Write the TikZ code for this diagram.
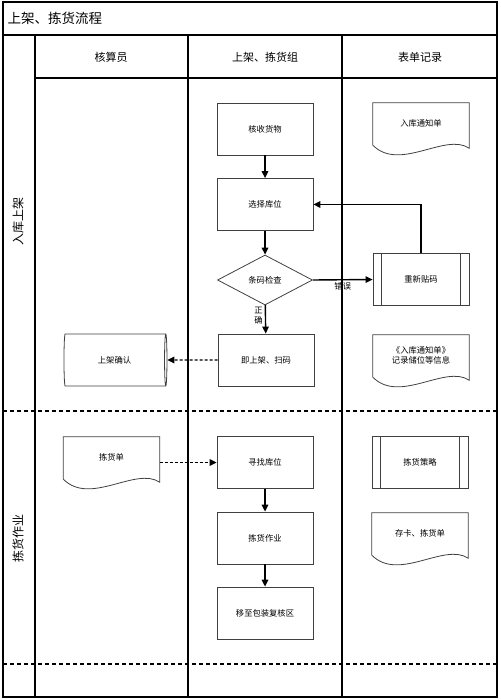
\documentclass[tikz,border=0pt]{standalone}
\usepackage{fontspec}
\setmainfont{Noto Sans CJK SC}
\usepackage{tikz}
\usetikzlibrary{arrows.meta,positioning,calc,shapes.geometric}
\newcommand{\boxfont}{\fontsize{8.3}{10}\selectfont}
% outline of a document symbol round a node
\newcommand{\docwave}[1]{%
  \draw[draw=black!75, line width=0.8pt] (#1.north west) -- (#1.north east) -- ($(#1.south east)+(0,5)$)
    .. controls ($(#1.south east)+(-24,-11)$) and ($(#1.south west)+(27,29)$) .. ($(#1.south west)+(0,2)$) -- cycle;}
% inner bars of a predefined process
\newcommand{\predefbars}[1]{%
  \draw[draw=black!75, line width=0.8pt] ([xshift=9pt]#1.north west) -- ([xshift=9pt]#1.south west)
    ([xshift=-9pt]#1.north east) -- ([xshift=-9pt]#1.south east);}

\tikzset{
  box/.style={draw=black!75, line width=0.8pt, fill=white, minimum width=96pt, minimum height=52pt,
    inner sep=1pt, font=\boxfont},
  docbox/.style={minimum width=96pt, minimum height=40pt, inner sep=1pt, align=center, font=\boxfont},
  decision/.style={draw=black!75, line width=0.8pt, diamond, aspect=1.9, minimum width=95pt,
    minimum height=50pt, inner sep=0pt, font=\boxfont},
  store/.style={draw=black!75, line width=0.8pt, cylinder, aspect=0.25, minimum width=52pt,
    minimum height=103pt, inner sep=1pt, font=\boxfont},
  flow/.style={-{Triangle[length=7pt,width=6.5pt]}, line width=1.4pt},
  dashflow/.style={flow, dash pattern=on 3pt off 2pt},
  frame/.style={line width=1.1pt},
  lanesep/.style={line width=1.6pt, dash pattern=on 4pt off 3pt},
  headtext/.style={font=\fontsize{11}{13}\selectfont},
  lanetext/.style={font=\fontsize{12}{14}\selectfont, rotate=90}
}

\begin{document}
\begin{tikzpicture}[x=1pt, y=-1pt]
    \useasboundingbox (0,0) rectangle (500,700);

    % Frame and columns
    \draw[frame] (3,2) rectangle (497,697);
    \draw[frame] (3,35) -- (497,35);
    \draw[frame] (35,78) -- (497,78);
    \draw[frame] (35,35) -- (35,697);
    \draw[frame] (188,35) -- (188,697);
    \draw[frame] (342,35) -- (342,697);

    % Lane separators
    \draw[lanesep] (3,411) -- (497,411);
    \draw[lanesep] (3,664) -- (497,664);

    % Titles
    \node[anchor=west, font=\fontsize{13.5}{15}\selectfont] (title) at (4,18) {上架、拣货流程};
    \node[headtext] (hacc) at (111,57) {核算员};
    \node[headtext] (hgrp) at (265,57) {上架、拣货组};
    \node[headtext] (hform) at (420,57) {表单记录};
    \node[lanetext] (lin) at (18,222) {入库上架};
    \node[lanetext] (lpick) at (18,538) {拣货作业};

    % Put-away lane
    \node[box] (recv) at (265,129) {核收货物};
    \node[box] (choose) at (265,204.5) {选择库位};
    \node[decision] (check) at (265,280) {条码检查};
    \node[box] (shelve) at (266,360) {即上架、扫码};
    \node[box] (relabel) at (421,279.5) {重新贴码};
    \predefbars{relabel}
    \node[docbox] (notice) at (421,123) {入库通知单};
    \docwave{notice}
    \node[docbox] (record) at (421,355) {《入库通知单》\\记录储位等信息};
    \docwave{record}
    \node[store] (confirm) at (114.5,360) {上架确认};

    % Picking lane
    \node[docbox] (picklist) at (111.5,457) {拣货单};
    \docwave{picklist}
    \node[box] (find) at (265,462.5) {寻找库位};
    \node[box] (pick) at (265,538) {拣货作业};
    \node[box] (move) at (265,613) {移至包装复核区};
    \node[box] (strategy) at (420,462.5) {拣货策略};
    \predefbars{strategy}
    \node[docbox] (card) at (420,533) {存卡、拣货单};
    \docwave{card}

    % Connectors
    \draw[flow] (recv) -- (choose);
    \draw[flow] (choose) -- (check);
    \draw[flow] (check) -- node[pos=0.35, left, align=center, font=\boxfont, inner sep=2pt] {正\\确} (shelve);
    \draw[flow] (check.east) -- node[below, font=\boxfont, inner sep=2pt] {错误} (relabel.west);
    \draw[flow] (relabel.north) |- (choose.east);
    \draw[dashflow] (shelve.west) -- (confirm.east);
    \draw[dashflow] (picklist.east |- find.west) -- (find.west);
    \draw[flow] (find) -- (pick);
    \draw[flow] (pick) -- (move);
\end{tikzpicture}
\end{document}
